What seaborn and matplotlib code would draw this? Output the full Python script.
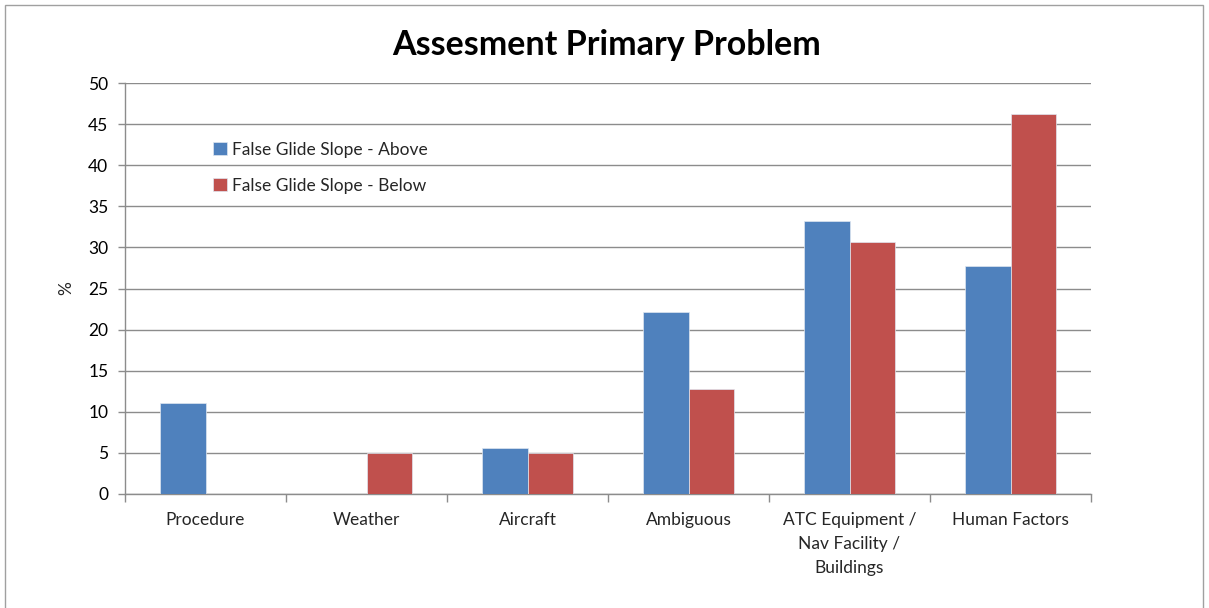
import matplotlib
matplotlib.use("Agg")
import matplotlib.pyplot as plt
import seaborn as sns
import pandas as pd
import numpy as np
from matplotlib.patches import Rectangle

categories = ["Procedure", "Weather", "Aircraft", "Ambiguous",
              "ATC Equipment /\nNav Facility /\nBuildings", "Human Factors"]
above = [11.1, 0.0, 5.6, 22.2, 33.2, 27.7]
below = [0.0, 5.0, 5.0, 12.8, 30.6, 46.2]
series = ["False Glide Slope - Above", "False Glide Slope - Below"]
yticks = [0, 5, 10, 15, 20, 25, 30, 35, 40, 45, 50]

df = pd.DataFrame({
    "category": categories * 2,
    "value": above + below,
    "series": [series[0]] * len(categories) + [series[1]] * len(categories),
})

sns.set_style("white")
plt.rcParams['font.family'] = ['Lato', 'DejaVu Sans']

fig = plt.figure(figsize=(12.09, 6.08), dpi=100)
ax = fig.add_axes([125/1209, 1 - 494/608, (1091-125)/1209, (494-83)/608])

sns.barplot(data=df, x="category", y="value", hue="series", order=categories,
            hue_order=series, palette=["#4F81BD", "#C0504D"], saturation=1,
            width=0.57, edgecolor="#dfe6f0", linewidth=0.5, ax=ax, zorder=3)

ax.set_ylim(0, 50)
ax.set_xlim(-0.5, len(categories) - 0.5)
ax.set_yticks(yticks)
ax.set_yticklabels([str(t) for t in yticks], fontsize=12.5, color="#000000")
ax.yaxis.grid(True, color="#8c8c8c", linewidth=1.0, zorder=0)
ax.set_axisbelow(True)
ax.tick_params(axis="y", length=5, color="#8c8c8c", width=1, pad=7, left=True)
ax.tick_params(axis="x", length=0, pad=13, labelsize=12.5)
for lab in ax.get_xticklabels():
    lab.set_linespacing(1.6)
ax.set_xticks(np.arange(-0.5, len(categories), 1.0), minor=True)
ax.tick_params(axis="x", which="minor", length=6, color="#8c8c8c", width=1, bottom=True)
ax.set_xlabel("")
ax.set_ylabel("%", fontsize=12.5, labelpad=10)
for s in ["top", "right"]:
    ax.spines[s].set_visible(False)
for s in ["left", "bottom"]:
    ax.spines[s].set_color("#8c8c8c")
    ax.spines[s].set_linewidth(1.0)

leg = ax.legend(loc="upper left", bbox_to_anchor=(0.075, 0.895), frameon=False,
                fontsize=12.5, handlelength=0.8, handleheight=0.8,
                handletextpad=0.3, labelspacing=1.15)

fig.text(607/1209, 1 - 45/608, "Assesment Primary Problem", ha="center", va="center",
         fontsize=24.5, fontweight="bold", color="#000000")

fig.patches.append(Rectangle((5/1209, -0.01), (1203-5)/1209, 1 - 5/608 + 0.01,
                             transform=fig.transFigure, fill=False,
                             edgecolor="#a0a0a0", linewidth=1.0))

fig.savefig("out.png", dpi=100)
